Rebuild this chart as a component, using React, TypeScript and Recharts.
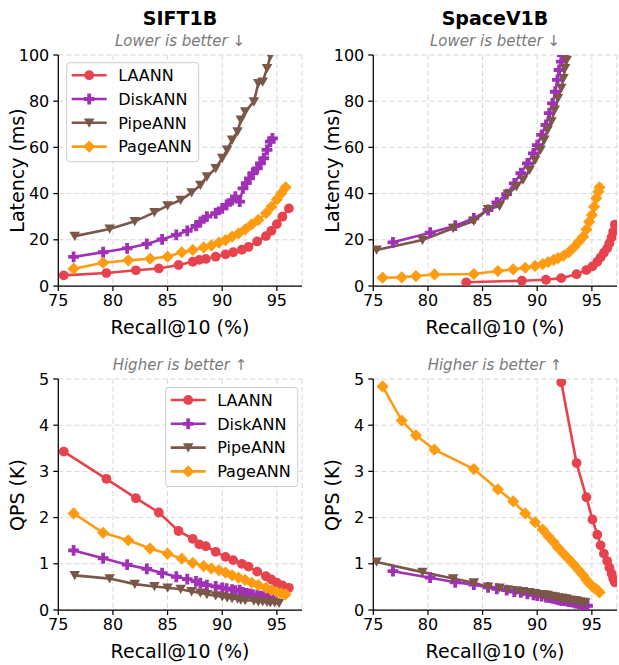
import React from 'react'
import { CartesianGrid, Line, LineChart, XAxis, YAxis } from 'recharts'

// SIFT1B – LAANN
const siftLaannRecall = [75.5, 79.4, 82.1, 84.2, 86.0, 87.3, 87.9, 88.5, 89.4, 90.3, 91.0, 91.8, 92.4, 93.2, 94.0, 94.5, 95.0, 95.5, 96.1]
const siftLaannLatency = [4.6, 5.6, 6.8, 7.6, 9.1, 10.5, 11.3, 11.7, 12.7, 13.7, 14.6, 15.7, 16.9, 19.3, 21.6, 23.9, 26.8, 30.0, 33.6]
const siftLaannQps = [3.43, 2.84, 2.42, 2.11, 1.71, 1.54, 1.42, 1.38, 1.26, 1.15, 1.08, 1.0, 0.94, 0.83, 0.73, 0.66, 0.59, 0.53, 0.48]

// SIFT1B – DiskANN
const siftDiskRecall = [76.4, 79.1, 81.3, 83.1, 84.5, 85.8, 86.8, 87.6, 88.0, 88.6, 89.4, 90.0, 90.4, 90.9, 91.2, 91.6, 91.9, 92.2, 92.5, 92.8, 93.2, 93.5, 93.8, 94.1, 94.4, 94.6]
const siftDiskLatency = [12.6, 14.6, 16.3, 18.2, 20.2, 22.1, 23.9, 26.0, 27.8, 30.0, 31.5, 33.6, 35.1, 37.2, 38.7, 36.5, 42.3, 44.5, 46.6, 48.8, 50.9, 53.1, 55.3, 58.9, 62.5, 63.9]
const siftDiskQps = [1.29, 1.12, 0.98, 0.89, 0.8, 0.72, 0.67, 0.62, 0.58, 0.54, 0.51, 0.48, 0.46, 0.44, 0.42, 0.43, 0.38, 0.36, 0.35, 0.33, 0.32, 0.3, 0.29, 0.27, 0.26, 0.25]

// SIFT1B – PipeANN
const siftPipeRecall = [76.5, 79.7, 82.0, 83.8, 85.0, 86.2, 87.2, 88.0, 88.6, 89.4, 90.0, 90.45, 90.9, 91.4, 91.7, 92.1, 92.9, 93.3, 93.7, 94.1, 94.4, 94.8, 95.2]
const siftPipeLatency = [21.6, 24.7, 28.0, 31.9, 34.8, 37.2, 40.4, 43.7, 47.3, 50.9, 55.3, 58.9, 63.2, 66.8, 71.9, 75.5, 79.8, 87.7, 88.4, 94.2, 99.5, 106, 112]
const siftPipeQps = [0.75, 0.68, 0.56, 0.51, 0.48, 0.45, 0.4, 0.37, 0.34, 0.31, 0.29, 0.27, 0.25, 0.24, 0.22, 0.21, 0.2, 0.18, 0.18, 0.17, 0.16, 0.16, 0.15]

// SIFT1B – PageANN
const siftPageRecall = [76.4, 79.1, 81.4, 83.4, 85.0, 86.3, 87.3, 88.3, 89.0, 89.7, 90.3, 90.9, 91.5, 92.1, 92.7, 93.3, 94.0, 94.5, 95.0, 95.4, 95.8]
const siftPageLatency = [7.5, 10.1, 11.1, 11.8, 12.7, 14.6, 15.6, 16.7, 17.5, 18.8, 19.9, 21.4, 22.8, 24.5, 26.7, 28.6, 31.5, 34.3, 37.5, 40.1, 42.7]
const siftPageQps = [2.09, 1.67, 1.51, 1.33, 1.22, 1.11, 1.02, 0.95, 0.9, 0.86, 0.81, 0.75, 0.7, 0.65, 0.59, 0.54, 0.48, 0.43, 0.39, 0.36, 0.34]

// SpaceV1B – LAANN (first points are above 5K QPS, off the chart)
const spaceLaannRecall = [83.5, 88.6, 90.8, 92.2, 93.6, 94.5, 95.05, 95.5, 95.8, 96.1, 96.4, 96.6, 96.8, 96.95, 97.1]
const spaceLaannLatency = [1.6, 2.3, 2.7, 3.4, 5.1, 6.9, 8.5, 10.5, 12.4, 14.4, 16.3, 18.5, 21.0, 23.5, 26.6]
const spaceLaannQps = [null, null, null, 4.93, 3.18, 2.44, 1.96, 1.63, 1.4, 1.22, 1.06, 0.92, 0.79, 0.68, 0.6]

// SpaceV1B – DiskANN
const spaceDiskRecall = [76.8, 80.2, 82.5, 84.2, 85.5, 86.3, 87.2, 87.9, 88.5, 89.1, 89.65, 90.0, 90.4, 90.8, 91.1, 91.4, 91.65, 91.85, 92.0, 92.2, 92.3, 92.6, 92.9, 93.2, 93.5, 93.8, 94.1, 94.4, 94.6]
const spaceDiskLatency = [18.9, 23.1, 26.1, 29.3, 32.9, 36.2, 39.8, 44.4, 48.8, 53.1, 57.4, 61.0, 65.4, 69.7, 74.8, 79.1, 84.1, 89.2, 93.5, 97.1, 100, 108, 117, 127, 138, 150, 165, 185, 200]
const spaceDiskQps = [0.84, 0.7, 0.6, 0.55, 0.49, 0.46, 0.43, 0.4, 0.38, 0.35, 0.33, 0.31, 0.3, 0.28, 0.27, 0.25, 0.24, 0.23, 0.22, 0.21, 0.21, 0.2, 0.18, 0.17, 0.15, 0.14, 0.12, 0.1, 0.09]

// SpaceV1B – PipeANN
const spacePipeRecall = [75.3, 79.5, 82.3, 84.2, 85.5, 86.55, 87.3, 88.1, 88.7, 89.3, 89.8, 90.3, 90.65, 90.95, 91.3, 91.6, 91.9, 92.2, 92.4, 92.55, 92.7, 93.0, 93.3, 93.6, 93.9, 94.2, 94.4]
const spacePipeLatency = [15.6, 19.9, 25.0, 28.1, 33.2, 34.6, 39.8, 43.0, 45.9, 50.2, 54.5, 58.9, 63.2, 67.5, 71.1, 76.2, 81.2, 85.6, 89.9, 94.2, 97.8, 106, 115, 125, 136, 148, 160]
const spacePipeQps = [1.04, 0.82, 0.68, 0.59, 0.5, 0.48, 0.44, 0.42, 0.4, 0.38, 0.36, 0.34, 0.33, 0.32, 0.3, 0.29, 0.27, 0.26, 0.25, 0.24, 0.24, 0.22, 0.21, 0.2, 0.18, 0.17, 0.16]

// SpaceV1B – PageANN
const spacePageRecall = [75.85, 77.6, 78.9, 80.6, 84.2, 86.4, 87.8, 88.9, 89.8, 90.5, 91.0, 91.5, 91.9, 92.4, 92.9, 93.4, 93.8, 94.2, 94.5, 94.75, 95.0, 95.2, 95.4, 95.6, 95.7]
const spacePageLatency = [3.6, 3.75, 4.3, 5.0, 5.2, 6.5, 7.2, 7.9, 8.7, 9.5, 10.4, 11.3, 12.1, 13.1, 14.7, 17.0, 19.2, 21.3, 24.5, 27.8, 30.7, 34.3, 38.0, 40.8, 42.7]
const spacePageQps = [4.84, 4.1, 3.78, 3.47, 3.05, 2.61, 2.35, 2.09, 1.9, 1.74, 1.6, 1.47, 1.35, 1.22, 1.1, 0.97, 0.86, 0.75, 0.65, 0.58, 0.52, 0.48, 0.45, 0.41, 0.38]

const xTicks = [75, 80, 85, 90, 95]
const latencyTicks = [0, 20, 40, 60, 80, 100]
const qpsTicks = [0, 1, 2, 3, 4, 5]
const systems = ['LAANN', 'DiskANN', 'PipeANN', 'PageANN']

type Shape = 'circle' | 'plus' | 'tri' | 'diamond'
const COLORS = ['#e6434f', '#a030b5', '#7b5748', '#ff9b10']
const SHAPES: Shape[] = ['circle', 'plus', 'tri', 'diamond']

const FONT = '"DejaVu Sans", sans-serif'

function Marker({ shape, cx, cy, color }: { shape: Shape; cx: number; cy: number; color: string }) {
  if (shape === 'circle') return <circle cx={cx} cy={cy} r={4.9} fill={color} />
  if (shape === 'plus') {
    const a = 5.4
    const t = 1.9
    const d = `M${cx - t},${cy - a}h${2 * t}v${a - t}h${a - t}v${2 * t}h${t - a}v${a - t}h${-2 * t}v${t - a}h${t - a}v${-2 * t}h${a - t}z`
    return <path d={d} fill={color} />
  }
  if (shape === 'tri') return <path d={`M${cx - 5.3},${cy - 4.4}L${cx + 5.3},${cy - 4.4}L${cx},${cy + 4.9}Z`} fill={color} />
  return <path d={`M${cx},${cy - 6.1}L${cx + 6.1},${cy}L${cx},${cy + 6.1}L${cx - 6.1},${cy}Z`} fill={color} />
}

const makeDot = (shape: Shape, color: string) => (p: any) => {
  if (p.cx == null || p.cy == null || p.value == null) return <g key={`d-${p.index}`} />
  return <Marker key={`d-${p.index}`} shape={shape} cx={p.cx} cy={p.cy} color={color} />
}

const toPoints = (xs: number[], ys: (number | null)[]) => xs.map((x, i) => ({ x, y: ys[i] }))

type Series = { recall: number[]; values: (number | null)[] }

function Panel({
  left,
  top,
  width,
  rightMargin,
  yDomain,
  yTicks,
  series
}: {
  left: number
  top: number
  width: number
  rightMargin: number
  yDomain: [number, number]
  yTicks: number[]
  series: Series[]
}) {
  const axisStyle = { stroke: '#000', strokeWidth: 1.25 }
  return (
    <div style={{ position: 'absolute', left, top }}>
      <LineChart width={width} height={290} margin={{ top: 15, right: rightMargin, bottom: 14, left: 8.3 }}>
        <CartesianGrid stroke="#d2d2d2" strokeDasharray="5 3" strokeWidth={0.9} />
        <XAxis
          type="number"
          dataKey="x"
          domain={[75, 97.3]}
          ticks={xTicks}
          allowDataOverflow
          height={30}
          tick={{ fill: '#000', fontSize: 16, fontFamily: FONT }}
          tickSize={5}
          tickMargin={4}
          axisLine={axisStyle}
          tickLine={axisStyle}
        />
        <YAxis
          type="number"
          domain={yDomain}
          ticks={yTicks}
          allowDataOverflow
          width={50}
          tick={{ fill: '#000', fontSize: 16, fontFamily: FONT }}
          tickSize={5}
          tickMargin={4}
          axisLine={axisStyle}
          tickLine={axisStyle}
        />
        {series.map((s, i) => (
          <Line
            key={systems[i]}
            name={systems[i]}
            data={toPoints(s.recall, s.values)}
            dataKey="y"
            type="linear"
            stroke={COLORS[i]}
            strokeWidth={2.6}
            dot={makeDot(SHAPES[i], COLORS[i])}
            activeDot={false}
            isAnimationActive={false}
          />
        ))}
      </LineChart>
    </div>
  )
}

function LegendBox({ x, y }: { x: number; y: number }) {
  return (
    <g>
      <rect x={x} y={y} width={132} height={99} rx={3} fill="#fff" fillOpacity={0.85} stroke="#cccccc" />
      {systems.map((name, i) => {
        const cy = y + 12.5 + i * 23.8
        return (
          <g key={name}>
            <line x1={x + 5} x2={x + 40} y1={cy} y2={cy} stroke={COLORS[i]} strokeWidth={2.6} />
            <Marker shape={SHAPES[i]} cx={x + 22.5} cy={cy} color={COLORS[i]} />
            <text x={x + 51.5} y={cy + 5.8} fontSize={16} fontFamily={FONT} fill="#000">
              {name}
            </text>
          </g>
        )
      })}
    </g>
  )
}

export default function App() {
  const sift = [
    { recall: siftLaannRecall, lat: siftLaannLatency, qps: siftLaannQps },
    { recall: siftDiskRecall, lat: siftDiskLatency, qps: siftDiskQps },
    { recall: siftPipeRecall, lat: siftPipeLatency, qps: siftPipeQps },
    { recall: siftPageRecall, lat: siftPageLatency, qps: siftPageQps }
  ]
  const space = [
    { recall: spaceLaannRecall, lat: spaceLaannLatency, qps: spaceLaannQps },
    { recall: spaceDiskRecall, lat: spaceDiskLatency, qps: spaceDiskQps },
    { recall: spacePipeRecall, lat: spacePipeLatency, qps: spacePipeQps },
    { recall: spacePageRecall, lat: spacePageLatency, qps: spacePageQps }
  ]
  const txt = { fontFamily: FONT, fill: '#000' }
  const sub = { fontFamily: FONT, fill: '#7a7a7a', fontStyle: 'italic' as const, fontSize: 15 }

  return (
    <div style={{ position: 'absolute', left: 0, top: 0, width: 619, height: 665, background: '#fff', overflow: 'hidden' }}>
      <Panel left={0} top={40} width={310} rightMargin={8} yDomain={[0, 100]} yTicks={latencyTicks}
        series={sift.map((s) => ({ recall: s.recall, values: s.lat }))} />
      <Panel left={315} top={40} width={304} rightMargin={2} yDomain={[0, 100]} yTicks={latencyTicks}
        series={space.map((s) => ({ recall: s.recall, values: s.lat }))} />
      <Panel left={0} top={364.3} width={310} rightMargin={8} yDomain={[0, 5]} yTicks={qpsTicks}
        series={sift.map((s) => ({ recall: s.recall, values: s.qps }))} />
      <Panel left={315} top={364.3} width={304} rightMargin={2} yDomain={[0, 5]} yTicks={qpsTicks}
        series={space.map((s) => ({ recall: s.recall, values: s.qps }))} />

      <svg width={619} height={665} style={{ position: 'absolute', left: 0, top: 0, pointerEvents: 'none' }}>
        <text x={180} y={25} textAnchor="middle" fontSize={19} fontWeight="bold" {...txt}>SIFT1B</text>
        <text x={495} y={25} textAnchor="middle" fontSize={19} fontWeight="bold" {...txt}>SpaceV1B</text>
        <text x={180} y={46} textAnchor="middle" {...sub}>Lower is better ↓</text>
        <text x={495} y={46} textAnchor="middle" {...sub}>Lower is better ↓</text>
        <text x={180} y={370} textAnchor="middle" {...sub}>Higher is better ↑</text>
        <text x={495} y={370} textAnchor="middle" {...sub}>Higher is better ↑</text>

        <text x={180} y={334} textAnchor="middle" fontSize={19} {...txt}>Recall@10 (%)</text>
        <text x={495} y={334} textAnchor="middle" fontSize={19} {...txt}>Recall@10 (%)</text>
        <text x={180} y={658} textAnchor="middle" fontSize={19} {...txt}>Recall@10 (%)</text>
        <text x={495} y={658} textAnchor="middle" fontSize={19} {...txt}>Recall@10 (%)</text>

        <text transform="translate(24,170.5) rotate(-90)" textAnchor="middle" fontSize={19} {...txt}>Latency (ms)</text>
        <text transform="translate(339,170.5) rotate(-90)" textAnchor="middle" fontSize={19} {...txt}>Latency (ms)</text>
        <text transform="translate(24,495) rotate(-90)" textAnchor="middle" fontSize={19} {...txt}>QPS (K)</text>
        <text transform="translate(339,495) rotate(-90)" textAnchor="middle" fontSize={19} {...txt}>QPS (K)</text>

        <LegendBox x={66.7} y={62.7} />
        <LegendBox x={165.7} y={387.5} />
      </svg>
    </div>
  )
}
